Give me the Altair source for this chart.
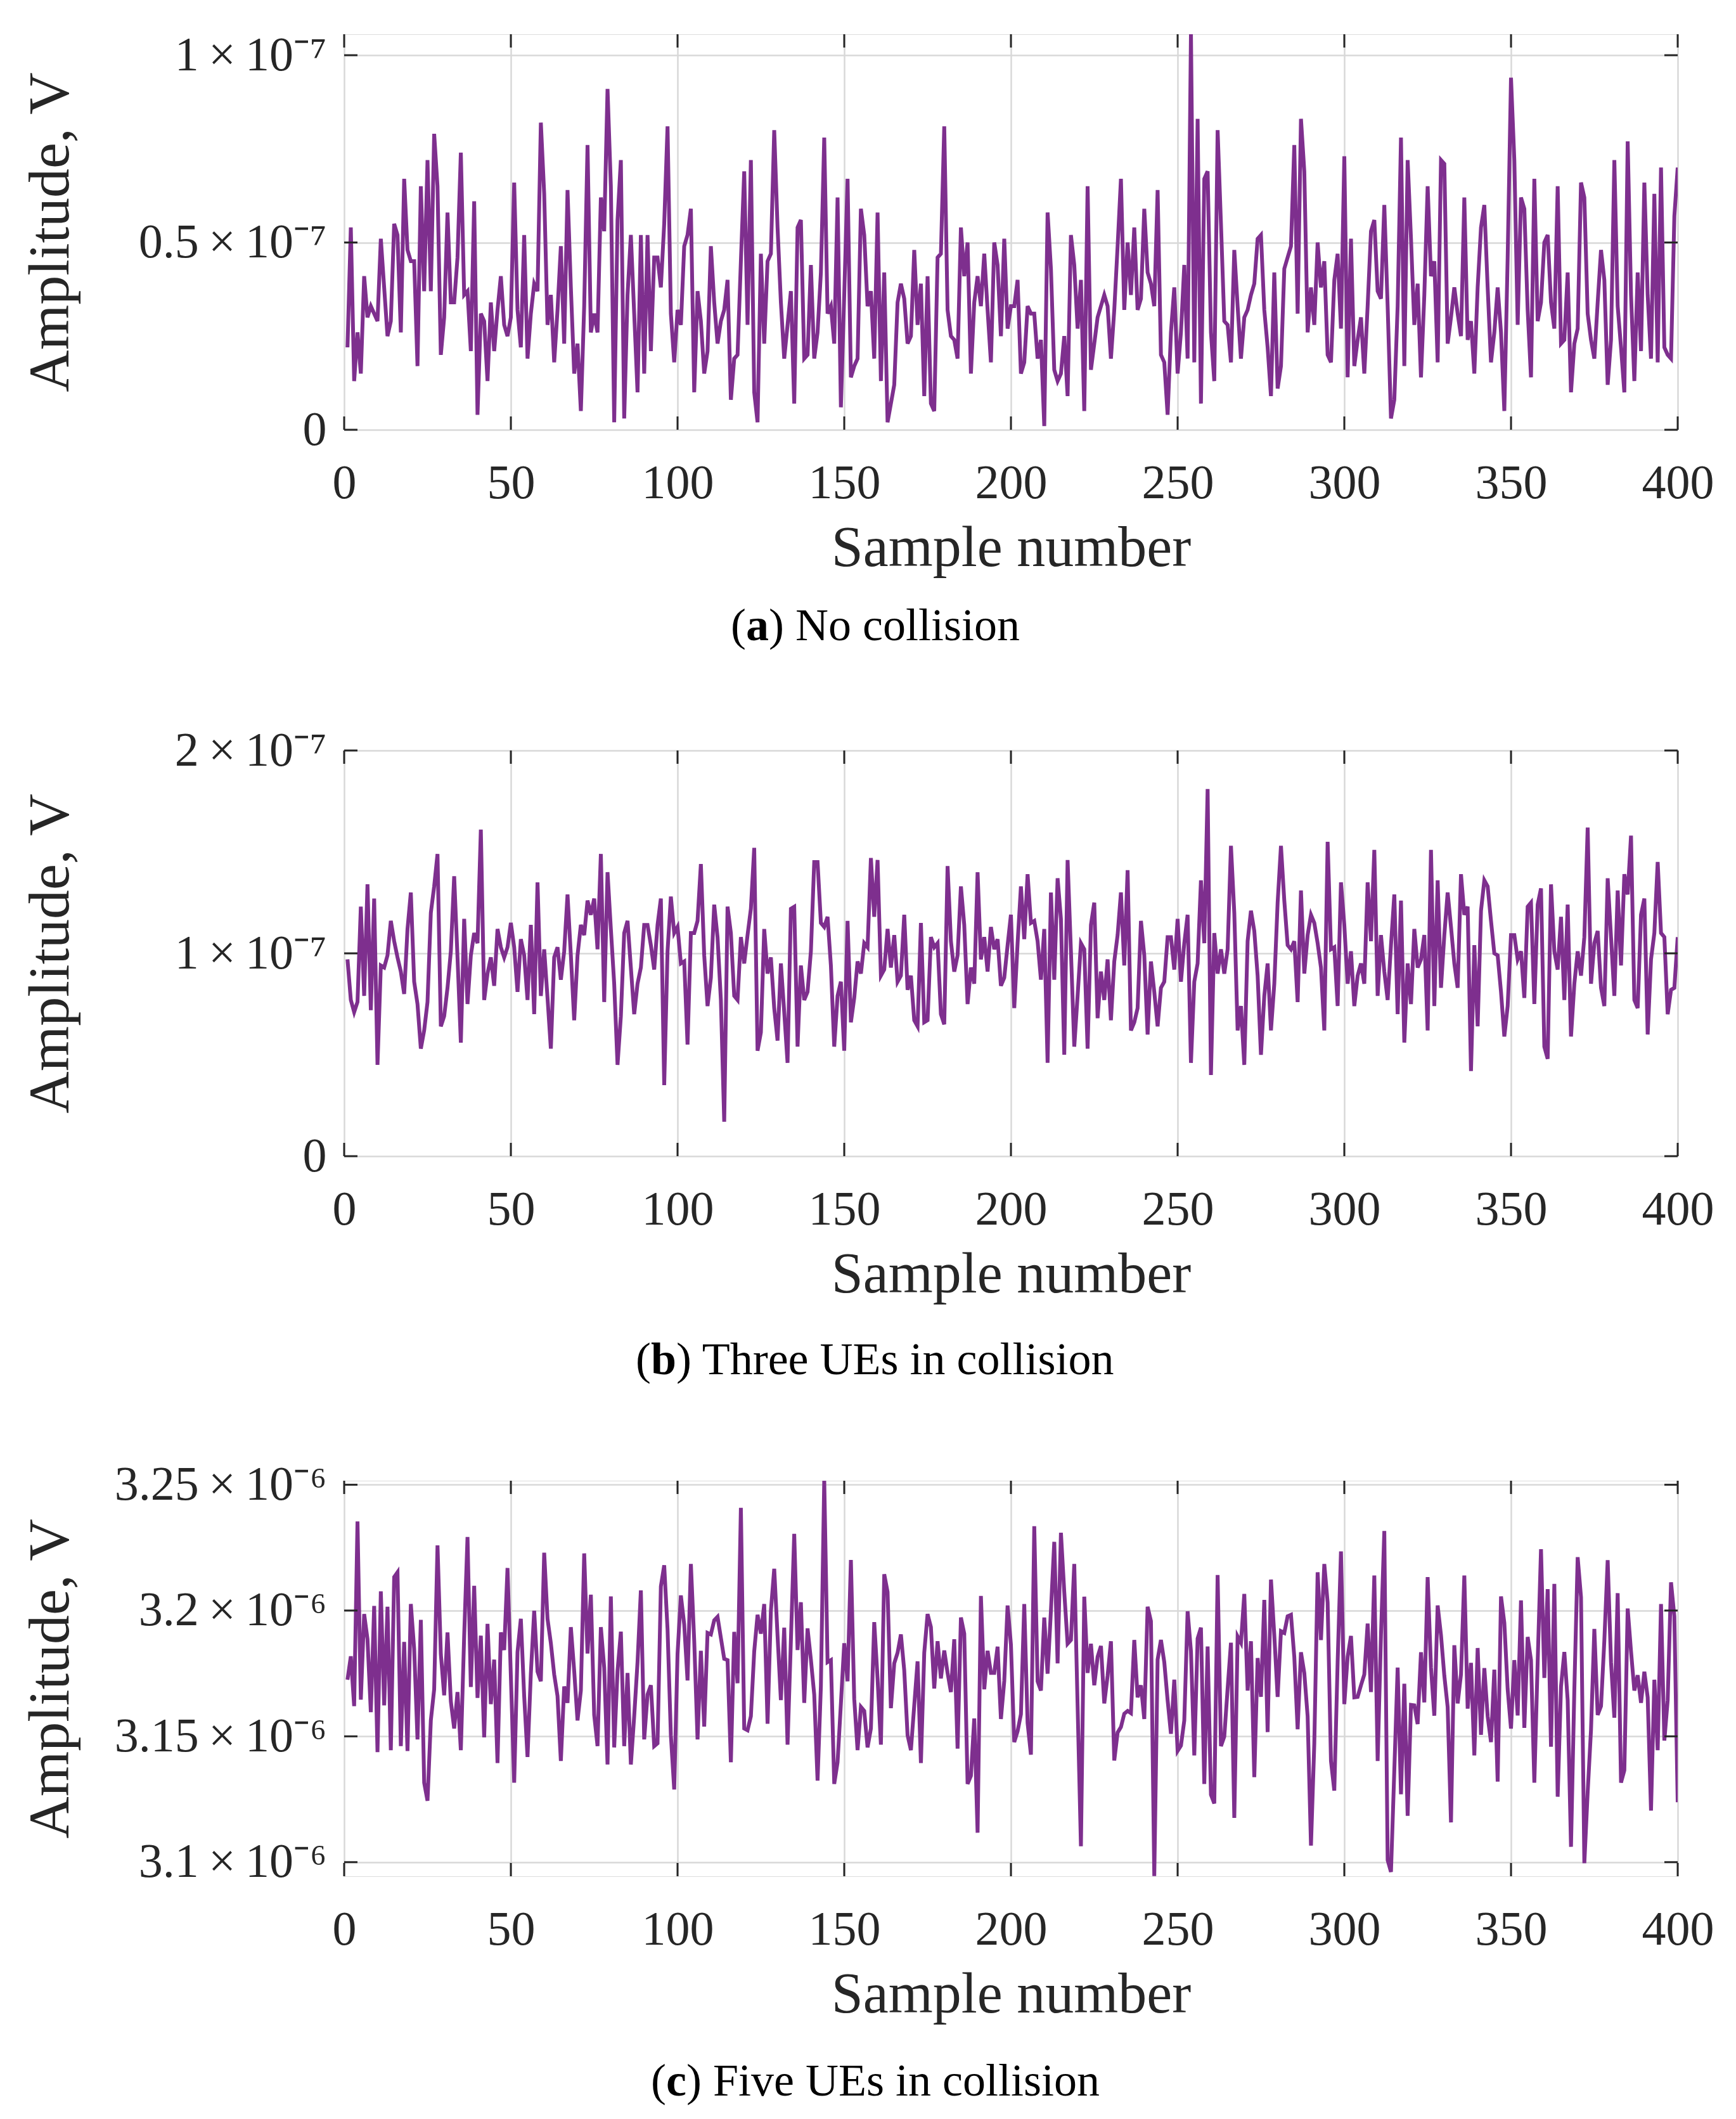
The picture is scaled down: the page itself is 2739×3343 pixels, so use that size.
import pandas as pd
import altair as alt

samples = list(range(1, 401))

# (a) No collision, amplitude in units of 1e-8 V
no_collision = [
    2.2, 5.4, 1.3, 2.6, 1.5, 4.1, 3.0, 3.3, 3.1, 2.9,
    5.1, 3.8, 2.5, 2.9, 5.5, 5.2, 2.6, 6.7, 4.8, 4.5,
    4.5, 1.7, 6.5, 3.7, 7.2, 3.7, 7.9, 6.5, 2.0, 3.0,
    5.8, 3.4, 3.4, 4.6, 7.4, 3.6, 3.7, 2.1, 6.1, 0.4,
    3.1, 2.9, 1.3, 3.4, 2.1, 3.2, 4.1, 2.8, 2.5, 3.0,
    6.6, 3.2, 2.2, 5.2, 1.9, 3.1, 3.9, 3.7, 8.2, 6.3,
    2.8, 3.6, 1.8, 3.2, 4.9, 2.3, 6.4, 3.8, 1.5, 2.3,
    0.5, 3.3, 7.6, 2.6, 3.1, 2.6, 6.2, 5.3, 9.1, 6.5,
    0.2, 5.6, 7.2, 0.3, 3.6, 5.2, 3.1, 1.0, 5.2, 1.5,
    5.2, 2.1, 4.6, 4.6, 3.8, 5.5, 8.1, 3.1, 1.8, 3.2,
    2.8, 4.9, 5.2, 5.9, 1.0, 3.7, 2.9, 1.5, 2.1, 4.9,
    3.4, 2.3, 2.9, 3.2, 4.0, 0.8, 1.9, 2.0, 4.5, 6.9,
    2.8, 7.2, 1.0, 0.2, 4.7, 2.3, 4.5, 4.7, 8.0, 5.4,
    3.4, 1.9, 2.8, 3.7, 0.7, 5.4,
    5.6, 1.9, 2.0, 4.4, 1.9, 2.6, 4.2, 7.8, 3.1, 3.3,
    2.3, 6.2, 0.6, 3.6, 6.7, 1.4, 1.7, 1.9, 5.9, 5.2,
    3.3, 3.7, 1.9, 5.8, 1.3, 4.2, 0.2, 0.7, 1.2, 3.4,
    3.9, 3.5, 2.3, 2.5, 4.8, 2.8, 3.9, 0.9, 4.1, 0.7,
    0.5, 4.6, 4.7, 8.1, 3.2, 2.5, 2.4, 1.9, 5.4, 4.1,
    5.0, 1.5, 3.4, 4.1, 3.3, 4.7, 3.2, 1.8, 5.0, 4.4,
    2.5, 5.1, 2.7, 3.3, 3.3, 4.0, 1.5, 1.8, 3.3, 3.1,
    3.1, 1.9, 2.4, 0.1, 5.8, 4.3, 1.6, 1.3, 1.5, 2.5,
    0.9, 5.2, 4.4, 2.7, 4.0, 0.5, 6.5, 1.6, 2.3, 3.0,
    3.3, 3.6, 3.3, 1.9, 3.2, 4.9, 6.7, 3.2, 5.0, 3.6,
    5.4, 3.2, 3.5, 5.9, 4.2, 3.9, 3.3, 6.4, 2.0, 1.8,
    0.4, 2.6, 3.8, 1.5, 2.6, 4.4, 1.9, 10.6, 1.8, 8.3,
    0.7, 6.7, 6.9, 2.6, 1.3, 8.0, 5.5, 2.9, 2.8, 1.8,
    4.8, 3.3,
    1.9, 3.0, 3.2, 3.6, 3.9, 5.1, 5.2, 3.2, 2.2, 0.9,
    4.2, 1.1, 1.7, 4.3, 4.6, 4.9, 7.6, 3.1, 8.3, 6.9,
    2.6, 3.8, 2.8, 5.0, 3.8, 4.5, 2.0, 1.8, 4.0, 4.7,
    2.7, 7.3, 1.4, 5.1, 1.7, 2.4, 3.0, 1.5, 3.3, 5.3,
    5.6, 3.7, 3.5, 6.0, 3.3, 0.3, 0.8, 3.3, 7.8, 1.7,
    7.2, 5.1, 2.8, 3.9, 1.4, 3.6, 6.5, 4.1, 4.5, 1.8,
    7.2, 7.1, 2.3, 3.0, 3.8, 3.1, 2.5, 6.2, 2.4, 2.9,
    1.5, 3.8, 5.4, 6.0, 3.8, 1.8, 2.6, 3.8, 2.6, 0.5,
    4.6, 9.4, 7.2, 2.8, 6.2, 5.9, 3.2, 1.4, 6.7, 2.9,
    3.4, 5.0, 5.2, 3.4, 2.7, 6.5, 2.3, 2.4, 4.2, 1.0,
    2.3, 2.7, 6.6, 6.2, 3.1, 2.4, 1.9, 3.4, 4.8, 4.0,
    1.2, 2.4, 7.2, 3.3, 2.2, 1.0, 7.7, 3.6, 1.3, 4.2,
    2.1, 6.6, 3.6, 1.9, 6.3, 1.8, 7.0, 2.2, 2.0, 1.9,
    5.7, 7.0,
]

# (b) Three UEs in collision, units of 1e-8 V
three_ues = [
    9.7, 7.7, 7.1, 7.6, 12.3, 7.9, 13.4, 7.2, 12.7, 4.5,
    9.4, 9.3, 9.9, 11.6, 10.6, 9.8, 9.1, 8.0, 11.2, 13.0,
    8.6, 7.5, 5.3, 6.2, 7.6, 12.0, 13.3, 14.9, 6.4, 6.9,
    8.3, 10.1, 13.8, 9.8, 5.6, 11.7, 7.5, 9.9, 11.0, 10.5,
    16.1, 7.7, 9.0, 9.8, 8.4, 11.2, 10.3, 9.8, 10.3, 11.5,
    10.3, 8.1, 10.7, 9.9, 7.7, 11.4, 7.0, 13.5, 7.9, 10.2,
    7.8, 5.3, 9.8, 10.3, 8.7, 10.1, 12.9, 9.9, 6.7, 9.9,
    11.4, 10.9, 12.6, 11.9, 12.7, 10.2, 14.9, 7.6, 14.0, 11.2,
    8.5, 4.5, 6.9, 11.0, 11.6, 9.3, 7.0, 8.5, 9.3, 11.4,
    11.4, 10.4, 9.2, 11.4, 12.7, 3.5, 10.1, 12.8, 11.0, 11.3,
    9.5, 9.6, 5.5, 11.0, 11.0, 11.6, 14.4, 9.9, 7.4, 8.8,
    12.4, 10.8, 7.7, 1.7, 12.3, 11.0, 7.9, 7.7, 10.8, 9.5,
    10.9, 12.2, 15.2, 5.2, 6.1, 11.2, 9.0, 9.8, 7.3, 5.7,
    9.5, 7.1, 4.6, 12.2, 12.3, 5.4,
    9.4, 7.7, 8.1, 10.1, 14.5, 14.5, 11.5, 11.3, 11.8, 9.4,
    5.4, 7.9, 8.6, 5.2, 11.6, 6.6, 7.8, 9.6, 9.0, 10.5,
    10.3, 14.7, 11.8, 14.6, 8.9, 9.2, 11.2, 9.3, 10.9, 8.6,
    8.9, 11.9, 8.2, 8.9, 6.7, 6.4, 11.5, 6.6, 6.7, 10.8,
    10.3, 10.5, 7.0, 6.5, 14.3, 10.6, 9.1, 9.9, 13.3, 11.4,
    7.5, 9.3, 8.5, 14.0, 9.7, 10.8, 9.1, 11.3, 10.2, 10.7,
    8.4, 8.8, 10.4, 11.9, 7.3, 10.5, 13.3, 10.7, 13.9, 11.5,
    11.6, 10.6, 8.7, 11.2, 4.6, 13.0, 8.7, 13.7, 11.7, 5.0,
    14.6, 10.1, 5.4, 7.9, 10.5, 10.2, 5.3, 11.4, 12.5, 6.8,
    9.1, 7.7, 9.7, 6.7, 9.6, 10.9, 13.0, 9.4, 14.1, 6.2,
    6.6, 7.3, 11.6, 9.9, 6.0, 9.6, 8.1, 6.4, 8.3, 8.6,
    10.8, 10.8, 9.2, 11.7, 8.6, 10.5, 11.9, 4.6, 8.6, 9.5,
    13.6, 10.5, 18.1, 4.0, 11.0, 9.0, 10.2, 9.0, 10.2, 15.3,
    12.0, 6.2, 7.4, 4.5, 10.6, 12.1, 11.1, 8.9, 5.0, 7.9,
    9.5, 6.2, 8.5, 12.5, 15.3, 12.6, 10.4, 10.2, 10.6, 7.6,
    13.1, 9.0, 10.9, 11.9, 11.5, 10.5, 9.3, 6.2, 15.5, 10.2,
    10.3, 7.4, 13.5, 11.4, 8.5, 10.1, 7.4, 8.9, 9.5, 8.5,
    13.5, 10.6, 15.1, 7.9, 10.9, 9.1, 7.7, 10.4, 12.9, 7.0,
    12.6, 5.6, 9.5, 7.5, 11.2, 9.3, 9.7, 10.9, 6.2, 15.1,
    7.4, 13.6, 8.3, 10.9, 13.0, 11.3, 9.5, 8.3, 13.9, 11.9,
    12.3, 4.2, 10.4, 6.4, 12.1, 13.6, 13.3, 11.6, 10.0, 9.9,
    8.1, 5.9, 7.4, 10.9, 10.9, 9.7, 10.1, 7.8, 12.3, 12.5,
    7.5, 12.4, 13.2, 5.4, 4.8, 13.4, 10.1, 9.2, 11.8, 7.7,
    12.4, 5.9, 8.5, 10.1, 8.9, 10.8, 16.2, 8.5, 10.5, 11.1,
    8.3, 7.4, 13.7, 10.8, 7.9, 13.1, 9.4, 13.9, 12.9, 15.8,
    7.7, 7.3, 11.9, 12.7, 6.0, 9.7, 11.0, 14.5, 11.0, 10.8,
    7.0, 8.2, 8.3, 10.8,
]

# (c) Five UEs in collision, units of 1e-6 V
five_ues = [
    3.1725, 3.1818, 3.1620, 3.2354, 3.1646, 3.1986, 3.1886, 3.1596, 3.2018, 3.1437,
    3.2076, 3.1623, 3.2015, 3.1445, 3.2133, 3.2152, 3.1461, 3.1875, 3.1442, 3.2026,
    3.1848, 3.1488, 3.1963, 3.1316, 3.1244, 3.1563, 3.1687, 3.2259, 3.1827, 3.1663,
    3.1913, 3.1639, 3.1531, 3.1676, 3.1445, 3.1900, 3.2292, 3.1696, 3.2098, 3.1653,
    3.1900, 3.1496, 3.1947, 3.1628, 3.1805, 3.1394, 3.1913, 3.1843, 3.2169, 3.1740,
    3.1316, 3.1835, 3.1967, 3.1660, 3.1418, 3.1750, 3.1999, 3.1757, 3.1719, 3.2230,
    3.1967, 3.1870, 3.1746, 3.1660, 3.1402, 3.1698, 3.1633, 3.1934, 3.1760, 3.1563,
    3.1682, 3.2227, 3.1829, 3.2063, 3.1585, 3.1461, 3.1934, 3.1773, 3.1388, 3.2056,
    3.1456, 3.1760, 3.1916, 3.1461, 3.1752, 3.1388, 3.1580, 3.1795, 3.2080, 3.1488,
    3.1666, 3.1703, 3.1461, 3.1472, 3.2096, 3.2180, 3.1926, 3.1504, 3.1289, 3.1827,
    3.2060, 3.1945, 3.1722, 3.2185, 3.1881, 3.1488, 3.1840, 3.1539, 3.1911, 3.1905,
    3.1961, 3.1975, 3.1891, 3.1808, 3.1803, 3.1397, 3.1915, 3.1711, 3.2408, 3.1531,
    3.1524, 3.1580, 3.1838, 3.1983, 3.1908, 3.2026, 3.1550, 3.1999, 3.2166, 3.1900,
    3.1644, 3.1932, 3.1467, 3.1880, 3.2305, 3.1843, 3.2033,
    3.1633, 3.1929, 3.1805, 3.1666, 3.1324, 3.1700, 3.2520, 3.1795, 3.1803, 3.1311,
    3.1397, 3.1630, 3.1870, 3.1719, 3.2201, 3.1649, 3.1445, 3.1617, 3.1601, 3.1456,
    3.1531, 3.1954, 3.1730, 3.1467, 3.2144, 3.2074, 3.1612, 3.1790, 3.1832, 3.1905,
    3.1762, 3.1504, 3.1445, 3.1623, 3.1798, 3.1394, 3.1832, 3.1986, 3.1934, 3.1690,
    3.1878, 3.1730, 3.1841, 3.1752, 3.1676, 3.1886, 3.1451, 3.1972, 3.1908, 3.1311,
    3.1343, 3.1571, 3.1117, 3.2058, 3.1687, 3.1840, 3.1752, 3.1752, 3.1856, 3.1569,
    3.1720, 3.2020, 3.1865, 3.1477, 3.1520, 3.1588, 3.2026, 3.1553, 3.1427, 3.2335,
    3.1719, 3.1682, 3.1972, 3.1749, 3.2000, 3.2273, 3.1790, 3.2309, 3.2074, 3.1868,
    3.1883, 3.2185, 3.1623, 3.1063, 3.2055, 3.1752, 3.1868, 3.1703, 3.1816, 3.1859,
    3.1631, 3.1741, 3.1878, 3.1404, 3.1515, 3.1537, 3.1590, 3.1601, 3.1592, 3.1883,
    3.1655, 3.1703, 3.1569, 3.2015, 3.1958, 3.0945, 3.1805, 3.1883, 3.1795, 3.1644,
    3.1510, 3.1725, 3.1442, 3.1463, 3.1563, 3.1997, 3.1838, 3.1424, 3.1889, 3.1932,
    3.1311, 3.1857, 3.1268, 3.1233, 3.2141, 3.1461, 3.1499, 3.1690, 3.1872, 3.1176,
    3.1897, 3.1872, 3.2066,
    3.1682, 3.1878, 3.1338, 3.1811, 3.1657, 3.2042, 3.1517, 3.2123, 3.1902, 3.1657,
    3.1918, 3.1911, 3.1977, 3.1983, 3.1816, 3.1528, 3.1834, 3.1752, 3.1580, 3.1066,
    3.1472, 3.2152, 3.1883, 3.2185, 3.2031, 3.1402, 3.1284, 3.1795, 3.2235, 3.1628,
    3.1816, 3.1899, 3.1655, 3.1657, 3.1703, 3.1746, 3.1948, 3.1676, 3.2139, 3.1402,
    3.1902, 3.2316, 3.1008, 3.0961, 3.1365, 3.1773, 3.1270, 3.1709, 3.1184, 3.1625,
    3.1623, 3.1549, 3.1834, 3.1635, 3.2133, 3.1773, 3.1582, 3.2020, 3.1902, 3.1741,
    3.1617, 3.1158, 3.1862, 3.1631, 3.1746, 3.2139, 3.1610, 3.1792, 3.1424, 3.1851,
    3.1506, 3.1771, 3.1580, 3.1477, 3.1765, 3.1320, 3.2056, 3.1951, 3.1687, 3.1531,
    3.1803, 3.1583, 3.2040, 3.1534, 3.1895, 3.1803, 3.1316, 3.1795, 3.2244, 3.1732,
    3.2085, 3.1459, 3.2106, 3.1260, 3.1698, 3.1835, 3.1644, 3.1061, 3.1687, 3.2212,
    3.2053, 3.0996, 3.1278, 3.1526, 3.1927, 3.1585, 3.1620, 3.1881, 3.2200, 3.1795,
    3.1574, 3.2069, 3.1316, 3.1365, 3.2008, 3.1838, 3.1682, 3.1743, 3.1633, 3.1757,
    3.1655, 3.1205, 3.1725, 3.1445, 3.2026, 3.1483, 3.1644, 3.2112, 3.1977, 3.1238,
]

x_ticks = [0, 50, 100, 150, 200, 250, 300, 350, 400]
y_ticks_a = [0, 0.5e-7, 1e-7]
y_ticks_b = [0, 1e-7, 2e-7]
y_ticks_c = [3.1e-6, 3.15e-6, 3.2e-6, 3.25e-6]

letters = ["a", "b", "c"]
caption_texts = ["No collision", "Three UEs in collision", "Five UEs in collision"]

FONT = "Liberation Serif"
INK = "#262626"
PURPLE = "#7E2F8E"
W = 2104


def panel(values, unit, y_domain, y_ticks, label_expr, H, letter, text, bold_x, bold_w, cap_dy):
    df = pd.DataFrame({"sample": samples, "amp": [v * unit for v in values]})
    xs = alt.Scale(domain=[0, 400], nice=False, zero=False)
    ys = alt.Scale(domain=y_domain, nice=False, zero=False)

    line = alt.Chart(df).mark_line(color=PURPLE, strokeWidth=6, clip=True).encode(
        x=alt.X("sample:Q", scale=xs, axis=alt.Axis(
            values=x_ticks, format="d", title="Sample number",
            labelFont=FONT, labelFontSize=76, labelColor=INK, labelPadding=47,
            labelFlush=False, labelOverlap=False, ticks=False, domain=False,
            grid=True, gridColor="#d8d8d8", gridWidth=2.5,
            titleFont=FONT, titleFontSize=90, titleFontWeight="normal", titleColor=INK,
            titleY=214, titleBaseline="alphabetic")),
        y=alt.Y("amp:Q", scale=ys, axis=alt.Axis(
            values=y_ticks, labelExpr=label_expr, title="Amplitude, V",
            labelFont=FONT, labelFontSize=76, labelColor=INK, labelPadding=28,
            labelLimit=0, labelFlush=False, labelOverlap=False, ticks=False, domain=False,
            grid=True, gridColor="#d8d8d8", gridWidth=2.5,
            titleFont=FONT, titleFontSize=92, titleFontWeight="normal", titleColor=INK,
            titleX=-436, titleY=H / 2, titleAngle=270, titleAlign="center",
            titleBaseline="alphabetic")),
    )

    xt = pd.DataFrame({"sample": x_ticks})
    yt = pd.DataFrame({"amp": y_ticks})
    tick = dict(color=INK, strokeWidth=3)
    xb = alt.Chart(xt).mark_rule(**tick).encode(
        x=alt.X("sample:Q", scale=xs), y=alt.value(H), y2=alt.value(H - 21))
    xtop = alt.Chart(xt).mark_rule(**tick).encode(
        x=alt.X("sample:Q", scale=xs), y=alt.value(0), y2=alt.value(21))
    yl = alt.Chart(yt).mark_rule(**tick).encode(
        y=alt.Y("amp:Q", scale=ys), x=alt.value(0), x2=alt.value(21))
    yr = alt.Chart(yt).mark_rule(**tick).encode(
        y=alt.Y("amp:Q", scale=ys), x=alt.value(W - 21), x2=alt.value(W))

    cap = dict(font=FONT, fontSize=72, baseline="alphabetic", color="black")
    open_p = alt.Chart(pd.DataFrame({"t": ["("]})).mark_text(align="right", **cap).encode(
        x=alt.value(bold_x), y=alt.value(H + cap_dy), text="t:N")
    bold = alt.Chart(pd.DataFrame({"t": [letter]})).mark_text(
        align="left", fontWeight="bold", **cap).encode(
        x=alt.value(bold_x), y=alt.value(H + cap_dy), text="t:N")
    rest = alt.Chart(pd.DataFrame({"t": [") " + text]})).mark_text(align="left", **cap).encode(
        x=alt.value(bold_x + bold_w), y=alt.value(H + cap_dy), text="t:N")

    return alt.layer(line, xb, xtop, yl, yr, open_p, bold, rest).properties(width=W, height=H)


sup7 = "\u2009×\u200910⁻⁷"
sup6 = "\u2009×\u200910⁻⁶"
expr_a = "datum.value == 0 ? '0' : format(datum.value * 1e7, '~g') + '" + sup7 + "'"
expr_c = "format(datum.value * 1e6, '~g') + '" + sup6 + "'"

pa = panel(no_collision, 1e-8, [0, 1.056e-7], y_ticks_a, expr_a, 624,
           letters[0], caption_texts[0], 634, 36, 332)
pb = panel(three_ues, 1e-8, [0, 2e-7], y_ticks_b, expr_a, 640,
           letters[1], caption_texts[1], 484, 40, 344)
pc = panel(five_ues, 1e-6, [3.0944e-6, 3.2516e-6], y_ticks_c, expr_c, 624,
           letters[2], caption_texts[2], 508, 32, 346)

chart = alt.vconcat(pa, pb, pc, spacing=120).properties(
    padding={"left": 24, "top": 40, "right": 5, "bottom": 5}
).configure_view(
    fill="#f0f0f0", stroke=INK, strokeWidth=3.5
).configure(background="white")

chart.save("out.html", embed_options={"renderer": "svg", "actions": False})
